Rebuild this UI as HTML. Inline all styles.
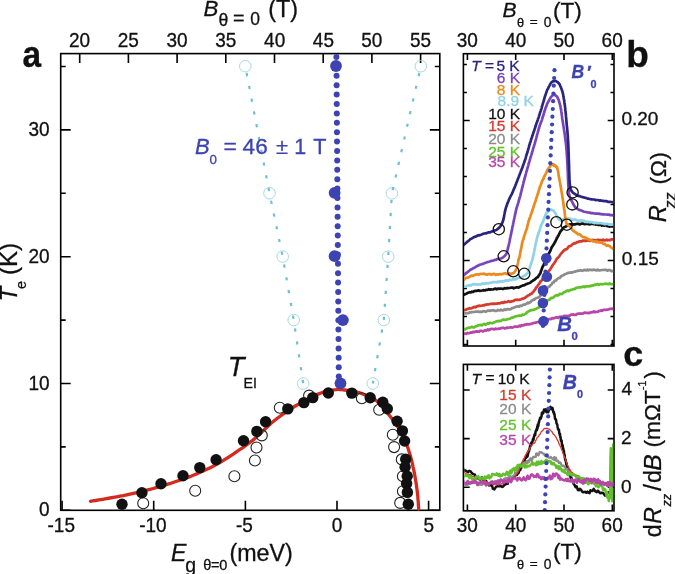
<!DOCTYPE html><html><head><meta charset="utf-8"><style>html,body{margin:0;padding:0;background:#fff;}svg{display:block;will-change:transform;}</style></head><body><svg width="675" height="574" viewBox="0 0 675 574" font-family="Liberation Sans, sans-serif">
<rect width="675" height="574" fill="#fff"/>
<path d="M60.7,510.3h10M439.8,510.3h-10M60.7,383.5h10M439.8,383.5h-10M60.7,256.7h10M439.8,256.7h-10M60.7,129.9h10M439.8,129.9h-10M60.7,446.9h5M439.8,446.9h-5M60.7,320.1h5M439.8,320.1h-5M60.7,193.3h5M439.8,193.3h-5M60.7,66.5h5M439.8,66.5h-5M62.1,510.3v-9.5M153.7,510.3v-9.5M245.4,510.3v-9.5M337.0,510.3v-9.5M428.6,510.3v-9.5M79.7,53.6v9.5M128.4,53.6v9.5M177.1,53.6v9.5M225.8,53.6v9.5M274.5,53.6v9.5M323.2,53.6v9.5M371.9,53.6v9.5M420.6,53.6v9.5" stroke="#000" stroke-width="1.6" fill="none"/>
<rect x="60.7" y="53.6" width="379.1" height="456.7" fill="none" stroke="#000" stroke-width="1.6"/>
<circle cx="245.3" cy="66.2" r="5.8" fill="none" stroke="#9fd3de" stroke-width="0.9"/>
<circle cx="269.5" cy="193.2" r="5.8" fill="none" stroke="#9fd3de" stroke-width="0.9"/>
<circle cx="282.7" cy="256.6" r="5.8" fill="none" stroke="#9fd3de" stroke-width="0.9"/>
<circle cx="293.7" cy="320" r="5.8" fill="none" stroke="#9fd3de" stroke-width="0.9"/>
<circle cx="303.2" cy="383.5" r="5.8" fill="none" stroke="#9fd3de" stroke-width="0.9"/>
<circle cx="420.8" cy="66.2" r="5.8" fill="none" stroke="#9fd3de" stroke-width="0.9"/>
<circle cx="391.9" cy="193.4" r="5.8" fill="none" stroke="#9fd3de" stroke-width="0.9"/>
<circle cx="388.2" cy="256.6" r="5.8" fill="none" stroke="#9fd3de" stroke-width="0.9"/>
<circle cx="383.8" cy="320" r="5.8" fill="none" stroke="#9fd3de" stroke-width="0.9"/>
<circle cx="372.8" cy="383.5" r="5.8" fill="none" stroke="#9fd3de" stroke-width="0.9"/>
<path d="M245.3,66.2 L269.5,193.2 L282.7,256.6 L293.7,320.0 L303.2,383.5" fill="none" stroke="#6cc0cf" stroke-width="2.2" stroke-dasharray="3.2 9.8" stroke-dashoffset="-7"/>
<path d="M420.8,66.2 L391.9,193.4 L388.2,256.6 L383.8,320.0 L372.8,383.5" fill="none" stroke="#6cc0cf" stroke-width="2.2" stroke-dasharray="3.2 9.8" stroke-dashoffset="-7"/>
<polyline points="90.5,501.3 92.6,500.9 95.5,500.5 99.0,499.9 102.7,499.3 106.5,498.6 110.0,498.0 113.3,497.4 116.6,496.8 120.0,496.2 123.3,495.6 126.7,494.9 130.0,494.2 133.4,493.4 136.7,492.7 140.1,491.8 143.5,491.0 146.8,490.1 150.0,489.3 153.1,488.5 156.1,487.6 159.0,486.8 161.9,486.0 164.9,485.1 167.8,484.2 170.8,483.3 173.7,482.3 176.7,481.3 179.7,480.3 182.6,479.3 185.6,478.2 188.6,477.1 191.5,476.0 194.4,474.8 197.4,473.6 200.3,472.3 203.3,471.0 206.3,469.6 209.2,468.2 212.2,466.7 215.2,465.1 218.1,463.5 221.1,461.8 224.2,459.9 227.4,457.9 230.6,455.8 233.6,453.8 236.4,451.8 238.9,450.2 240.9,448.9 242.5,447.8 243.9,446.8 245.2,445.9 246.4,445.0 247.8,444.0 249.3,442.9 250.8,441.7 252.3,440.6 253.8,439.4 255.3,438.1 256.7,436.9 258.1,435.6 259.5,434.4 260.8,433.1 262.1,431.7 263.5,430.4 265.0,429.0 266.5,427.6 268.0,426.2 269.5,424.8 271.1,423.3 272.9,421.8 274.8,420.2 277.0,418.5 279.4,416.7 281.9,414.9 284.5,413.1 287.1,411.3 289.6,409.6 292.1,408.0 294.5,406.5 297.0,405.0 299.5,403.6 301.9,402.2 304.4,400.9 306.9,399.6 309.4,398.2 311.9,396.9 314.3,395.7 316.8,394.6 319.3,393.6 321.8,392.7 324.5,391.9 327.1,391.2 329.6,390.7 332.0,390.2 334.1,389.8 335.9,389.6 337.3,389.4 338.6,389.4 339.9,389.5 341.3,389.6 343.0,389.8 345.0,390.0 347.3,390.3 349.7,390.7 352.1,391.1 354.4,391.5 356.3,391.9 357.9,392.3 359.1,392.6 360.2,393.0 361.3,393.4 362.5,393.9 364.0,394.5 365.7,395.2 367.6,395.9 369.6,396.7 371.7,397.6 373.7,398.8 375.8,400.3 377.9,402.1 380.0,404.3 382.2,406.7 384.4,409.3 386.4,411.8 388.4,414.2 390.3,416.5 392.0,418.8 393.8,421.1 395.4,423.4 397.0,425.7 398.5,428.1 399.9,430.6 401.3,433.1 402.6,435.6 403.9,438.2 405.0,440.8 406.1,443.3 407.1,445.8 408.0,448.2 408.8,450.7 409.6,453.2 410.4,455.7 411.1,458.4 411.8,461.2 412.5,464.1 413.1,467.1 413.8,470.1 414.4,473.1 414.9,476.1 415.4,479.1 415.9,482.1 416.4,485.1 416.8,488.1 417.2,491.0 417.5,493.8 417.8,496.7 418.0,499.6 418.3,502.5 418.4,505.2 418.6,507.4 418.7,509.0" fill="none" stroke="#d52b1e" stroke-width="3.3" stroke-linejoin="round" stroke-linecap="round" />
<circle cx="143.2" cy="503.3" r="5.5" fill="none" stroke="#222" stroke-width="1.1"/>
<circle cx="195.2" cy="490.8" r="5.5" fill="none" stroke="#222" stroke-width="1.1"/>
<circle cx="234.4" cy="476.2" r="5.5" fill="none" stroke="#222" stroke-width="1.1"/>
<circle cx="254.9" cy="460.5" r="5.5" fill="none" stroke="#222" stroke-width="1.1"/>
<circle cx="256.5" cy="447.5" r="5.5" fill="none" stroke="#222" stroke-width="1.1"/>
<circle cx="261.8" cy="435.4" r="5.5" fill="none" stroke="#222" stroke-width="1.1"/>
<circle cx="279.8" cy="407.8" r="5.5" fill="none" stroke="#222" stroke-width="1.1"/>
<circle cx="309.1" cy="395.6" r="5.5" fill="none" stroke="#222" stroke-width="1.1"/>
<circle cx="361.9" cy="398.3" r="5.5" fill="none" stroke="#222" stroke-width="1.1"/>
<circle cx="379.2" cy="409.8" r="5.5" fill="none" stroke="#222" stroke-width="1.1"/>
<circle cx="392.8" cy="434.7" r="5.5" fill="none" stroke="#222" stroke-width="1.1"/>
<circle cx="394.1" cy="447.1" r="5.5" fill="none" stroke="#222" stroke-width="1.1"/>
<circle cx="401.8" cy="459.4" r="5.5" fill="none" stroke="#222" stroke-width="1.1"/>
<circle cx="402.9" cy="476.2" r="5.5" fill="none" stroke="#222" stroke-width="1.1"/>
<circle cx="402.9" cy="491.2" r="5.5" fill="none" stroke="#222" stroke-width="1.1"/>
<circle cx="400.2" cy="502.9" r="5.5" fill="none" stroke="#222" stroke-width="1.1"/>
<circle cx="122" cy="504.3" r="5.7" fill="#111"/>
<circle cx="141.9" cy="492.8" r="5.7" fill="#111"/>
<circle cx="161" cy="483.8" r="5.7" fill="#111"/>
<circle cx="183" cy="475.7" r="5.7" fill="#111"/>
<circle cx="199.8" cy="467.6" r="5.7" fill="#111"/>
<circle cx="216.1" cy="459.7" r="5.7" fill="#111"/>
<circle cx="243.5" cy="440.7" r="5.7" fill="#111"/>
<circle cx="256.9" cy="431.4" r="5.7" fill="#111"/>
<circle cx="265.6" cy="421.8" r="5.7" fill="#111"/>
<circle cx="287.8" cy="408.9" r="5.7" fill="#111"/>
<circle cx="303.9" cy="402.6" r="5.7" fill="#111"/>
<circle cx="312.8" cy="397.6" r="5.7" fill="#111"/>
<circle cx="328.3" cy="393" r="5.7" fill="#111"/>
<circle cx="351.8" cy="393.1" r="5.7" fill="#111"/>
<circle cx="370.2" cy="397.8" r="5.7" fill="#111"/>
<circle cx="382.8" cy="402.3" r="5.7" fill="#111"/>
<circle cx="387.3" cy="408.8" r="5.7" fill="#111"/>
<circle cx="397.1" cy="421.3" r="5.7" fill="#111"/>
<circle cx="402.4" cy="430.9" r="5.7" fill="#111"/>
<circle cx="404.6" cy="441" r="5.7" fill="#111"/>
<circle cx="405.7" cy="459.3" r="5.7" fill="#111"/>
<circle cx="405.1" cy="467.2" r="5.7" fill="#111"/>
<circle cx="407.2" cy="476.2" r="5.7" fill="#111"/>
<circle cx="406.6" cy="483.6" r="5.7" fill="#111"/>
<circle cx="407.4" cy="492.4" r="5.7" fill="#111"/>
<circle cx="408.3" cy="504.2" r="5.7" fill="#111"/>
<g fill="#3d43b3"><circle cx="336.40" cy="57.0" r="3"/><circle cx="336.47" cy="66.4" r="3"/><circle cx="336.54" cy="75.8" r="3"/><circle cx="336.61" cy="85.2" r="3"/><circle cx="336.68" cy="94.6" r="3"/><circle cx="336.75" cy="104.0" r="3"/><circle cx="336.82" cy="113.4" r="3"/><circle cx="336.89" cy="122.8" r="3"/><circle cx="336.96" cy="132.2" r="3"/><circle cx="337.03" cy="141.6" r="3"/><circle cx="337.10" cy="151.0" r="3"/><circle cx="337.18" cy="160.4" r="3"/><circle cx="337.25" cy="169.8" r="3"/><circle cx="337.32" cy="179.2" r="3"/><circle cx="337.39" cy="188.6" r="3"/><circle cx="337.46" cy="198.0" r="3"/><circle cx="337.53" cy="207.4" r="3"/><circle cx="337.60" cy="216.8" r="3"/><circle cx="337.67" cy="226.2" r="3"/><circle cx="337.74" cy="235.6" r="3"/><circle cx="337.81" cy="245.0" r="3"/><circle cx="337.88" cy="254.4" r="3"/><circle cx="337.95" cy="263.8" r="3"/><circle cx="338.02" cy="273.2" r="3"/><circle cx="338.09" cy="282.6" r="3"/><circle cx="338.16" cy="292.0" r="3"/><circle cx="338.23" cy="301.4" r="3"/><circle cx="338.30" cy="310.8" r="3"/><circle cx="338.37" cy="320.2" r="3"/><circle cx="338.44" cy="329.6" r="3"/><circle cx="338.51" cy="339.0" r="3"/><circle cx="338.59" cy="348.4" r="3"/><circle cx="338.66" cy="357.8" r="3"/><circle cx="338.73" cy="367.2" r="3"/><circle cx="338.80" cy="376.6" r="3"/></g>
<circle cx="336" cy="66" r="5.9" fill="#3d43b3"/>
<circle cx="334.6" cy="192.8" r="5.9" fill="#3d43b3"/>
<circle cx="334.6" cy="256.2" r="5.9" fill="#3d43b3"/>
<circle cx="342.9" cy="320.1" r="5.9" fill="#3d43b3"/>
<circle cx="340.5" cy="383.3" r="5.9" fill="#3d43b3"/>
<path d="M463.4,64.5h3.5M614.0,64.5h-3.5M463.4,92.5h3.5M614.0,92.5h-3.5M463.4,120.5h6.3M614.0,120.5h-6.3M463.4,148.5h3.5M614.0,148.5h-3.5M463.4,176.5h3.5M614.0,176.5h-3.5M463.4,204.5h3.5M614.0,204.5h-3.5M463.4,232.5h3.5M614.0,232.5h-3.5M463.4,260.5h6.3M614.0,260.5h-6.3M463.4,288.5h3.5M614.0,288.5h-3.5M463.4,316.5h3.5M614.0,316.5h-3.5M463.4,344.5h3.5M614.0,344.5h-3.5M467.4,53.7v6.3M467.4,346.0v-6.3M515.7,53.7v6.3M515.7,346.0v-6.3M564.0,53.7v6.3M564.0,346.0v-6.3M612.3,53.7v6.3M612.3,346.0v-6.3" stroke="#000" stroke-width="1.6" fill="none"/>
<rect x="463.4" y="53.7" width="150.6" height="292.3" fill="none" stroke="#000" stroke-width="1.6"/>
<clipPath id="cb"><rect x="464" y="54.5" width="149.2" height="290.7"/></clipPath><g clip-path="url(#cb)">
<polyline points="463.0,334.0 464.9,333.5 466.2,333.8 467.5,332.9 468.6,333.3 469.7,332.9 470.7,332.4 471.9,332.7 473.0,331.9 474.2,332.2 475.5,331.6 476.7,331.4 478.0,331.6 479.0,331.8 480.1,330.8 481.1,330.8 482.1,331.1 483.2,331.3 484.3,330.6 485.4,330.2 486.5,330.7 487.7,329.4 488.8,330.3 489.9,329.4 491.0,329.1 492.1,328.9 493.3,329.0 494.4,329.5 495.5,328.6 496.7,329.0 497.8,329.0 499.0,328.5 500.1,328.7 501.3,328.0 502.5,327.9 503.7,327.9 504.9,328.4 506.0,327.9 507.2,327.7 508.4,327.8 509.6,327.5 510.8,327.2 512.1,327.6 513.3,327.3 514.5,326.5 515.5,326.7 516.6,326.5 517.6,326.8 518.6,326.4 519.6,325.7 520.6,326.3 521.6,325.1 522.5,325.3 523.5,325.5 524.5,324.6 525.6,324.8 526.8,324.0 527.9,324.5 529.0,324.4 530.3,323.9 531.6,324.0 532.9,323.0 534.0,323.1 535.1,322.7 536.3,322.4 537.4,322.0 538.5,322.1 539.5,322.0 540.7,321.1 541.8,321.1 542.9,320.1 544.1,320.6 545.2,320.3 546.4,320.4 547.6,320.0 548.7,319.1 549.9,319.0 551.1,319.1 552.2,318.1 553.4,318.4 554.6,317.9 555.7,317.6 556.9,317.3 558.1,317.9 559.3,316.9 560.5,316.8 561.7,316.7 562.9,317.0 564.0,315.8 565.2,316.0 566.4,315.9 567.5,316.1 568.6,315.8 569.7,315.6 570.8,314.7 572.2,314.7 573.5,314.4 574.7,314.9 575.9,314.9 577.2,313.8 578.4,313.7 579.5,313.6 580.5,313.5 581.6,313.7 582.7,313.7 583.7,313.1 584.8,312.6 585.8,313.0 586.8,312.8 587.8,312.9 588.8,313.2 589.8,312.7 590.8,312.4 591.8,312.3 592.8,312.2 593.8,311.3 594.8,312.2 595.8,311.9 596.9,311.9 598.1,311.6 599.2,310.9 600.3,310.8 601.3,310.3 602.3,310.8 603.3,309.9 604.3,309.8 605.6,309.8 606.8,309.6 608.1,309.6 609.1,309.1 610.2,308.9 611.3,308.9 612.4,308.7 613.5,308.8" fill="none" stroke="#b845a8" stroke-width="2.7" stroke-linejoin="round" stroke-linecap="round" />
<polyline points="463.0,328.9 464.9,329.5 466.2,328.8 467.5,327.9 468.6,327.8 469.7,327.6 470.7,327.4 471.9,326.8 473.0,327.4 474.2,327.3 475.5,326.4 476.7,326.1 478.0,325.4 479.0,325.2 480.1,325.2 481.1,324.9 482.1,325.4 483.2,324.3 484.3,323.9 485.4,324.8 486.5,324.1 487.7,323.3 488.8,323.6 489.9,322.7 491.0,323.0 492.2,323.3 493.4,322.8 494.6,322.3 495.8,321.5 496.9,321.4 497.9,320.9 498.9,321.3 500.0,320.8 501.0,320.8 502.2,320.0 503.4,319.5 504.6,319.9 505.8,319.8 507.1,319.4 508.3,319.0 509.6,318.7 510.7,318.3 511.8,317.5 512.9,317.6 513.7,317.3 515.0,316.5 516.9,316.0 518.0,316.0 519.0,315.6 520.1,315.7 521.2,315.7 522.3,314.7 523.4,314.8 524.5,314.4 525.5,313.9 526.6,312.6 527.6,311.9 528.7,311.3 529.7,310.7 530.7,310.2 531.7,310.2 533.5,309.9 535.1,309.3 536.8,308.3 537.7,308.0 538.7,307.7 539.8,306.0 541.0,305.9 541.8,305.5 542.7,304.6 543.5,303.9 544.4,302.9 545.2,301.8 546.1,301.8 547.3,300.4 548.5,300.1 549.6,299.6 550.7,298.3 551.7,297.8 552.8,297.9 553.8,297.2 554.8,296.0 555.9,295.5 556.9,295.1 557.9,295.5 558.9,294.9 560.0,293.7 561.0,294.1 562.0,293.9 563.0,293.0 564.1,292.2 565.2,292.1 566.3,291.1 567.4,290.5 568.5,291.2 569.6,290.4 570.9,289.8 572.1,289.8 573.1,289.0 574.0,289.2 575.0,288.9 576.2,287.9 577.4,287.7 578.6,287.5 579.6,287.2 580.6,287.5 581.6,286.9 582.6,286.9 583.7,286.4 584.7,287.2 585.8,286.3 586.8,286.3 587.9,286.3 588.9,286.5 589.9,285.8 590.9,286.2 591.9,285.6 592.9,285.4 593.9,285.3 594.9,284.5 595.9,284.9 596.9,284.4 597.9,284.1 598.9,284.9 600.2,284.0 601.4,284.2 602.7,284.3 603.8,284.0 604.8,283.7 605.9,283.8 607.2,283.9 608.5,284.1 609.6,283.4 610.6,284.1 612.3,284.0 613.5,284.2" fill="none" stroke="#62c12a" stroke-width="2.7" stroke-linejoin="round" stroke-linecap="round" />
<polyline points="463.0,314.0 464.9,313.3 466.2,313.1 467.5,313.1 468.6,313.1 469.7,312.4 470.7,312.4 471.9,312.1 473.0,312.0 474.2,312.0 475.5,311.7 476.7,311.7 478.0,311.5 479.0,312.0 480.1,311.7 481.1,311.8 482.1,311.8 483.2,311.0 484.3,311.3 485.4,311.7 486.5,311.5 487.7,310.7 488.8,310.6 489.9,310.9 491.0,310.4 492.2,310.5 493.4,310.2 494.6,310.8 495.8,310.8 496.9,310.8 497.9,309.9 498.9,310.4 500.0,310.3 501.0,309.6 502.2,310.3 503.4,310.3 504.6,309.3 505.8,310.0 507.1,309.2 508.3,309.1 509.6,309.5 510.7,309.2 511.8,308.2 512.9,308.1 513.7,307.8 515.0,307.1 516.9,306.5 518.0,306.4 519.0,306.7 520.1,305.6 521.2,305.9 522.3,305.5 523.4,304.7 524.5,304.6 525.5,304.4 526.6,303.8 527.6,302.7 528.7,303.2 529.7,302.4 530.7,302.1 531.7,300.6 532.7,300.2 533.6,299.4 534.5,299.7 535.5,298.6 536.3,298.0 537.2,297.8 538.7,297.4 539.9,296.4 540.9,295.1 541.9,294.2 543.0,294.0 544.2,292.2 544.9,291.6 545.5,290.1 546.2,289.2 546.9,289.1 547.7,287.9 548.5,286.6 549.4,286.6 550.4,285.3 551.5,284.5 552.5,282.7 553.6,282.5 554.7,280.7 555.8,280.7 556.9,279.3 557.9,278.5 558.9,278.0 560.0,277.8 561.0,276.4 562.0,275.7 563.0,275.5 564.1,274.7 565.2,274.1 566.3,273.7 567.4,273.1 568.5,272.9 569.6,272.7 570.9,272.4 572.1,272.6 573.5,271.8 575.0,271.7 576.1,271.1 577.3,271.1 578.4,270.6 579.6,270.6 580.9,270.2 582.1,270.8 583.2,270.5 584.2,269.9 585.3,270.1 586.3,270.5 587.5,269.6 588.6,270.3 589.8,269.8 590.9,269.8 592.0,270.2 593.2,269.7 594.3,269.8 595.5,270.1 596.6,270.4 597.7,269.7 598.8,270.3 599.9,270.3 601.0,270.2 602.1,270.0 603.2,270.0 604.2,269.8 605.2,269.9 606.2,269.9 607.3,270.7 608.3,270.2 609.3,270.2 610.3,270.2 611.4,271.1 612.4,271.1 613.5,271.0" fill="none" stroke="#8c8c8c" stroke-width="2.7" stroke-linejoin="round" stroke-linecap="round" />
<polyline points="463.0,310.7 463.9,310.3 464.9,310.0 466.2,309.6 467.5,308.8 468.6,308.8 469.7,308.2 470.7,308.5 471.9,308.2 473.0,307.5 474.2,306.8 475.5,307.3 476.7,306.4 478.0,306.2 479.0,305.7 480.1,305.9 481.1,305.8 482.1,305.6 483.2,305.2 484.3,305.3 485.4,304.6 486.5,304.7 487.7,304.4 488.8,304.5 489.9,304.0 491.0,303.8 492.2,303.9 493.4,303.7 494.6,303.8 495.8,303.6 496.9,303.7 497.9,303.4 498.9,303.3 500.0,303.3 501.0,302.7 502.2,302.4 503.4,302.9 504.6,301.9 505.8,302.3 507.1,302.0 508.3,301.2 509.6,301.8 510.7,301.7 511.8,301.2 512.9,301.1 513.7,300.9 515.0,299.9 516.9,299.9 518.0,299.7 519.0,299.9 520.1,299.6 521.2,299.3 522.3,298.7 523.4,298.7 524.5,298.0 525.5,297.6 526.6,296.6 527.6,295.8 528.7,295.3 529.7,294.8 530.7,293.8 531.7,293.7 532.7,292.4 533.6,291.5 534.2,290.6 534.8,289.9 535.5,288.9 536.0,287.6 536.6,287.5 537.2,286.7 537.9,285.4 538.7,284.3 539.8,282.9 540.7,281.2 541.6,280.6 542.3,279.3 542.9,278.3 543.5,277.6 544.1,277.3 544.8,276.0 545.5,275.5 546.3,274.8 547.0,273.3 547.8,272.2 548.5,271.3 549.3,270.5 550.0,269.7 550.6,268.6 551.3,267.7 552.1,266.0 552.9,264.9 553.6,264.0 554.2,263.4 554.9,262.0 555.5,261.3 556.2,259.7 556.9,258.8 557.7,257.9 558.5,257.3 559.3,256.2 560.1,255.2 560.9,253.8 561.7,253.1 562.3,252.2 563.0,251.5 563.9,250.2 564.6,250.4 565.3,249.3 566.2,249.5 567.4,248.4 568.9,246.3 569.7,246.2 570.5,245.9 571.4,245.5 572.3,244.4 573.3,243.8 574.4,243.2 575.6,243.4 576.8,242.2 578.0,242.2 579.2,241.3 580.4,241.3 581.6,241.5 582.8,240.5 583.9,241.0 585.1,240.6 586.2,240.9 587.4,240.7 588.5,240.3 589.7,240.9 590.9,240.5 592.1,240.0 593.3,239.9 594.5,240.4 595.8,240.3 597.0,240.1 598.3,239.9 599.6,240.1 601.0,240.0 602.1,240.5 603.2,239.6 604.2,240.3 605.5,240.3 606.7,239.5 607.9,240.3 609.0,240.0 610.1,240.1 611.2,239.4 612.3,239.4 613.5,239.4" fill="none" stroke="#d63a2c" stroke-width="2.7" stroke-linejoin="round" stroke-linecap="round" />
<polyline points="463.0,295.4 463.9,294.7 464.9,294.2 466.2,293.7 467.5,293.1 468.6,292.5 469.7,292.2 470.7,292.5 471.9,291.7 473.0,292.0 474.2,291.1 475.5,290.9 476.7,290.9 478.0,290.4 479.0,290.4 480.1,290.9 481.1,290.7 482.1,290.5 483.2,290.2 484.3,290.4 485.4,290.3 486.5,289.8 487.7,289.9 488.8,289.2 489.9,289.7 491.0,289.4 492.2,289.5 493.4,289.3 494.6,288.9 495.8,288.6 496.9,289.3 497.9,288.5 498.9,288.8 500.0,288.6 501.0,288.5 502.2,288.8 503.4,288.9 504.6,288.2 505.8,288.5 507.1,288.1 508.3,288.2 509.6,288.0 510.7,287.7 511.8,287.7 512.9,287.7 513.7,288.3 515.0,287.8 516.9,287.2 518.0,287.6 519.0,287.4 520.1,286.7 521.2,286.1 522.3,285.8 523.4,285.3 524.5,285.1 525.5,284.5 526.6,284.1 527.6,283.6 528.7,283.3 529.7,283.0 530.7,282.3 531.7,281.4 532.7,280.8 533.6,280.3 534.5,279.6 535.5,278.9 536.3,277.9 537.2,277.4 537.9,277.2 538.7,275.6 539.3,274.8 540.0,273.8 540.5,272.8 541.0,270.9 541.5,269.7 542.0,268.4 542.4,267.3 542.9,266.2 543.4,265.6 543.8,264.4 544.3,263.5 544.7,261.8 545.2,260.9 545.6,260.6 546.1,259.8 546.5,258.5 547.3,256.8 548.1,254.5 548.5,253.9 549.0,253.5 549.5,252.4 550.0,251.3 550.7,250.2 551.3,248.2 551.8,247.2 552.4,246.3 552.9,245.7 553.4,244.8 553.9,244.1 554.5,242.9 555.0,242.0 555.5,241.2 556.0,240.0 556.5,239.2 556.9,237.8 557.4,237.6 557.9,236.2 558.3,235.9 558.8,234.8 559.5,233.3 560.2,231.9 560.8,231.0 561.5,230.3 562.2,229.6 562.8,228.3 564.1,227.2 565.4,226.7 566.5,226.1 567.4,225.4 568.3,224.9 569.1,225.0 570.0,224.3 570.8,224.3 571.6,224.3 572.8,224.6 573.8,224.3 574.9,224.4 576.0,224.0 577.2,223.8 578.3,223.8 579.4,224.4 580.4,224.1 581.5,223.8 582.6,223.5 583.8,223.9 585.0,224.1 586.2,223.8 587.4,223.7 588.6,224.1 589.9,224.4 591.1,223.8 592.3,223.7 593.4,224.1 594.5,224.2 595.6,224.6 596.7,224.3 597.8,224.9 598.8,225.0 599.8,224.9 600.8,224.7 601.9,225.6 602.9,225.1 603.9,225.7 605.0,225.3 606.1,225.5 607.2,226.1 608.3,225.8 609.4,226.6 610.7,226.3 612.0,226.2 613.3,226.5" fill="none" stroke="#111" stroke-width="2.7" stroke-linejoin="round" stroke-linecap="round" />
<polyline points="463.0,286.7 464.9,286.5 466.2,286.5 467.5,285.5 468.6,285.5 469.7,285.1 470.7,285.6 471.9,284.7 473.0,284.4 474.2,284.2 475.5,284.4 476.7,284.7 478.0,284.5 479.0,284.3 480.1,284.4 481.1,284.3 482.1,283.6 483.2,283.4 484.3,284.0 485.4,283.7 486.5,283.0 487.7,283.4 488.8,283.0 489.9,282.9 491.0,282.7 492.2,282.4 493.4,282.1 494.6,282.2 495.7,282.1 496.7,282.5 497.8,281.6 498.8,282.2 499.8,281.4 500.8,281.4 502.0,281.6 503.2,281.4 504.4,280.9 505.6,280.4 506.6,280.6 507.6,280.3 508.6,280.6 509.6,279.8 510.6,279.8 511.6,280.1 512.7,279.2 513.9,279.3 515.1,279.4 516.1,279.2 517.1,278.3 518.9,277.8 520.6,277.2 522.0,277.3 523.2,276.0 524.3,275.7 525.3,275.3 526.1,274.3 526.8,273.7 527.5,273.4 528.2,271.8 528.9,269.8 529.5,268.5 530.1,266.3 530.7,264.5 531.3,262.5 531.9,261.2 532.2,260.4 532.5,259.1 532.8,258.3 533.0,256.5 533.3,255.5 533.5,254.6 533.8,253.9 534.0,252.8 534.3,251.1 534.5,249.8 534.7,248.7 535.0,247.5 535.2,246.6 535.5,244.7 535.7,243.9 536.0,242.6 536.2,241.5 536.5,240.2 536.8,239.0 537.1,237.7 537.4,236.7 537.7,235.7 538.0,235.1 538.4,233.5 539.0,231.7 539.6,230.4 540.3,228.1 540.9,226.2 541.5,224.6 542.0,223.7 542.5,222.3 543.0,221.7 543.5,220.3 544.1,218.8 544.9,216.4 545.6,214.5 546.3,213.1 547.0,212.5 547.7,211.8 548.4,211.0 549.0,210.3 549.6,210.0 550.0,209.8 550.6,209.6 551.2,209.7 552.0,210.1 552.9,210.5 553.8,210.8 554.7,212.4 555.6,213.4 556.0,214.5 556.4,215.2 557.3,217.3 558.1,218.2 558.8,219.2 559.4,219.8 560.1,220.1 561.0,220.8 562.1,220.3 563.2,219.4 564.6,218.8 566.2,218.9 567.9,218.6 569.8,218.6 570.9,219.4 572.0,219.4 573.5,220.0 574.9,219.4 576.1,220.0 577.3,220.5 578.6,220.7 579.6,220.9 580.7,220.3 581.8,220.7 582.8,220.7 584.0,220.9 585.2,221.8 586.3,221.6 587.5,222.1 588.7,221.8 589.9,222.4 591.1,222.2 592.3,222.2 593.4,222.8 594.5,223.1 595.6,222.5 596.7,223.1 597.8,223.2 598.8,223.0 599.8,223.2 600.8,223.2 601.9,223.3 602.9,223.5 603.9,224.0 605.0,224.1 606.1,223.9 607.2,223.8 608.3,224.2 609.4,224.7 610.7,224.4 612.0,224.7 613.3,224.7" fill="none" stroke="#8fd3e6" stroke-width="2.7" stroke-linejoin="round" stroke-linecap="round" />
<polyline points="463.0,280.5 464.3,279.5 465.2,278.4 466.1,277.9 467.1,277.7 468.2,277.4 469.3,277.0 470.5,275.9 471.8,275.6 473.0,275.9 474.4,275.1 475.8,274.6 477.3,274.3 478.7,274.8 480.2,273.9 481.6,274.0 483.0,273.7 484.4,273.8 485.8,274.4 487.2,274.7 488.6,274.1 490.0,274.0 491.4,274.7 492.8,274.1 494.2,273.9 495.7,274.9 497.1,274.3 498.6,274.6 500.0,274.0 501.4,274.5 502.7,273.9 504.0,273.5 505.2,273.3 506.4,273.9 507.5,274.1 508.7,274.4 509.7,273.4 510.7,274.1 512.4,273.4 513.7,273.0 514.7,271.7 515.4,270.8 516.1,269.8 516.7,268.7 517.2,265.8 517.4,265.3 517.6,264.6 518.0,263.0 518.4,260.4 518.8,258.7 519.2,258.2 519.6,256.6 520.0,254.3 520.3,252.1 520.6,251.3 521.0,248.9 521.4,247.7 521.7,245.5 521.9,244.7 522.1,242.9 522.4,242.5 522.7,240.7 523.0,239.9 523.3,239.5 523.6,238.5 524.0,236.6 524.3,235.6 524.7,234.7 525.1,233.8 525.4,232.5 525.8,231.1 526.3,229.9 526.7,229.1 527.0,228.3 527.3,226.2 527.6,225.3 528.0,224.0 528.5,221.2 528.9,220.9 529.3,218.8 529.7,218.4 530.0,217.4 530.3,216.6 530.7,215.2 531.0,214.4 531.3,213.6 531.8,212.0 532.3,210.9 532.7,209.3 533.2,208.0 533.6,206.2 534.0,205.7 534.4,204.3 534.8,202.8 535.1,202.3 535.5,201.2 535.8,199.9 536.2,198.6 536.7,197.3 537.3,195.3 537.9,193.6 538.2,192.9 538.5,191.4 538.8,190.7 539.1,189.7 539.5,188.0 539.8,187.6 540.1,186.0 540.4,185.8 541.0,184.2 541.6,182.5 542.2,180.7 542.8,180.0 543.3,178.7 543.7,178.4 544.1,176.4 544.6,176.1 545.2,175.0 546.0,173.2 546.7,171.9 547.4,169.8 548.1,169.6 548.8,167.8 549.4,167.4 550.0,166.5 550.5,165.0 551.0,165.3 551.5,165.2 552.0,164.0 552.5,164.3 553.0,164.9 553.5,164.3 554.0,165.5 554.5,165.0 555.0,166.0 555.5,165.6 556.0,166.5 556.4,167.3 556.7,166.7 557.1,167.4 557.5,169.0 557.7,169.9 558.0,170.8 558.2,171.9 558.4,172.9 558.5,174.9 558.7,175.7 558.9,177.1 559.1,177.3 559.3,179.1 559.5,179.4 559.7,181.0 559.9,182.2 560.1,182.9 560.3,184.6 560.5,185.3 560.7,186.4 560.9,187.9 561.1,188.0 561.2,190.2 561.4,190.8 561.6,191.7 561.8,193.2 562.0,193.7 562.2,195.7 562.4,196.4 562.5,197.3 562.7,198.9 562.9,199.7 563.0,200.5 563.2,202.4 563.4,202.7 563.5,204.8 563.7,205.2 563.8,206.8 564.0,208.3 564.1,208.9 564.3,210.1 564.4,210.7 564.6,211.4 564.7,212.5 564.8,213.7 565.0,215.7 565.2,217.0 565.4,218.3 565.6,220.0 565.9,220.8 566.2,222.3 566.5,223.8 567.0,223.9 567.6,224.6 568.3,225.6 569.1,225.8 570.0,226.8 570.9,227.7 571.8,229.3 573.0,230.6 573.9,230.9 574.9,232.1 575.9,232.6 576.8,232.8 577.8,234.3 578.7,234.0 579.6,234.4 580.5,234.8 581.4,236.0 582.4,236.8 583.3,237.2 584.3,237.2 585.2,237.6 586.4,237.8 587.6,239.1 588.8,239.6 589.9,239.7 591.0,240.4 592.1,240.6 593.1,241.5 594.2,241.5 595.2,241.2 596.2,242.2 597.2,241.4 598.2,242.3 599.6,242.5 601.0,242.7 602.3,242.9 603.5,244.2 604.7,243.8 605.8,244.9 606.8,245.8 607.9,245.3 609.6,246.1 611.0,247.4 612.1,248.0 612.9,248.7 613.5,249.4" fill="none" stroke="#ea8a1f" stroke-width="2.7" stroke-linejoin="round" stroke-linecap="round" />
<polyline points="463.0,275.8 464.3,274.8 465.2,274.0 466.1,273.0 467.1,272.5 468.2,271.6 469.3,270.7 470.5,269.6 471.8,269.2 473.0,268.4 474.0,267.8 474.9,267.5 475.8,266.8 476.8,266.2 477.8,265.7 478.7,265.3 479.7,264.8 480.6,264.5 481.6,264.3 482.6,263.9 483.5,263.6 484.5,263.2 485.5,262.7 486.4,262.5 487.4,262.1 488.8,261.8 490.3,261.3 491.5,260.8 492.8,260.6 493.9,260.4 495.0,259.8 496.0,259.9 497.0,259.2 498.8,258.9 500.3,258.5 501.5,258.2 502.5,257.8 503.2,257.2 504.0,256.4 504.7,256.1 505.4,255.1 506.0,254.3 506.5,253.7 506.9,252.4 507.3,251.1 507.6,249.6 508.0,248.2 508.3,246.6 508.7,245.5 509.0,243.8 509.3,242.8 509.5,241.5 509.7,240.6 509.9,239.5 510.1,238.4 510.4,237.1 510.6,236.1 510.9,234.7 511.1,234.1 511.3,232.7 511.5,231.7 511.7,230.8 511.9,230.2 512.1,228.9 512.3,227.8 512.5,226.8 512.7,225.8 512.9,225.1 513.1,224.0 513.3,223.1 513.5,222.0 513.8,220.6 514.0,219.8 514.2,218.6 514.4,217.8 514.6,216.8 514.9,215.7 515.1,214.3 515.3,213.7 515.5,212.7 515.8,211.7 516.0,210.3 516.3,209.2 516.6,207.9 517.0,206.7 517.3,206.0 517.6,204.9 518.0,203.7 518.3,202.7 518.6,201.5 519.0,200.2 519.3,198.9 519.7,197.7 520.0,196.8 520.3,195.6 520.5,194.6 520.8,193.7 521.0,192.5 521.3,191.6 521.5,190.6 521.8,189.8 522.0,188.6 522.3,187.5 522.6,186.7 522.8,185.4 523.1,184.5 523.4,183.3 523.6,181.9 523.9,181.0 524.2,180.0 524.5,179.0 524.8,177.7 525.1,176.8 525.4,175.6 525.7,174.4 526.0,173.6 526.3,172.1 526.6,171.3 527.0,169.9 527.3,168.6 527.6,167.6 527.9,166.7 528.3,165.6 528.6,163.9 529.0,163.0 529.3,161.8 529.6,160.9 529.9,159.6 530.2,158.7 530.5,157.6 530.8,156.8 531.2,155.4 531.5,154.6 531.8,153.2 532.2,152.0 532.5,151.2 532.8,150.0 533.1,148.7 533.5,147.9 533.8,146.5 534.1,145.8 534.4,144.6 534.8,143.4 535.1,142.2 535.5,140.8 535.8,139.8 536.1,138.8 536.3,138.1 536.6,136.6 536.9,135.9 537.2,134.2 537.6,133.1 537.8,132.1 538.1,131.4 538.4,130.1 538.8,128.7 539.2,127.5 539.6,126.0 539.9,125.0 540.6,123.4 541.2,121.8 541.6,120.7 542.0,119.6 542.3,118.4 542.6,117.4 542.9,116.4 543.3,115.6 543.6,114.3 544.0,113.2 544.3,111.8 544.7,110.8 545.0,109.8 545.3,108.8 545.7,107.6 546.0,106.8 546.5,105.9 546.9,104.4 547.4,103.4 547.8,102.5 548.7,101.1 549.5,99.7 550.3,98.0 551.1,96.9 551.8,96.1 552.5,95.4 553.2,95.1 553.8,94.6 554.4,94.7 555.0,94.8 555.7,95.7 556.4,96.2 557.2,96.8 557.9,98.5 558.6,99.7 558.9,100.8 559.2,102.0 559.6,103.1 559.9,104.2 560.2,105.4 560.5,106.6 560.7,108.0 560.9,108.8 561.1,110.0 561.3,111.4 561.5,112.5 561.7,114.0 561.8,115.2 562.0,116.2 562.1,117.1 562.2,118.2 562.4,119.4 562.6,120.5 562.8,122.1 563.0,123.1 563.2,124.5 563.4,125.8 563.6,126.7 563.8,127.9 563.9,129.2 564.1,130.2 564.3,131.2 564.5,132.6 564.7,133.9 564.8,135.0 565.0,136.1 565.1,137.3 565.3,138.4 565.4,139.5 565.6,140.5 565.7,141.6 565.8,142.9 565.9,143.7 566.1,145.1 566.2,146.4 566.3,147.6 566.4,148.8 566.5,149.9 566.6,151.0 566.7,152.0 566.7,153.1 566.8,154.1 566.9,155.3 567.0,156.5 567.0,157.2 567.1,158.6 567.2,159.7 567.2,160.7 567.3,161.8 567.4,163.2 567.4,163.8 567.5,165.2 567.5,166.1 567.6,167.5 567.6,168.8 567.7,169.7 567.7,170.6 567.8,172.0 567.8,173.1 567.9,174.4 567.9,175.4 567.9,176.7 568.0,177.9 568.0,178.8 568.1,179.9 568.1,181.3 568.2,182.2 568.2,183.8 568.3,184.9 568.4,186.2 568.5,187.0 568.5,188.6 568.6,189.7 568.8,191.0 568.9,192.4 569.1,193.7 569.3,194.6 569.5,196.0 570.1,197.9 570.7,199.6 571.5,200.8 572.3,202.2 573.2,203.8 574.1,205.6 575.2,207.3 576.6,208.4 577.5,208.8 578.4,209.6 579.5,209.9 580.5,210.3 581.7,210.6 582.9,211.3 584.1,211.7 585.4,212.0 586.8,212.2 588.1,212.5 589.6,212.6 591.1,213.1 592.1,213.0 593.2,213.2 594.2,213.5 595.3,213.6 596.5,213.5 597.6,213.6 598.6,213.8 599.6,213.7 600.6,214.2 601.6,214.1 602.8,214.5 603.9,214.3 605.1,214.5 606.2,214.5 607.3,214.7 608.3,214.7 609.4,214.7 610.4,215.2 611.8,215.1 613.3,215.3" fill="none" stroke="#7844bd" stroke-width="2.7" stroke-linejoin="round" stroke-linecap="round" />
<polyline points="463.0,245.5 463.8,244.9 464.5,244.2 465.6,243.3 466.7,242.3 467.5,241.5 468.3,241.1 469.1,240.4 470.3,239.1 471.4,238.7 472.4,238.1 473.4,237.5 474.4,236.8 475.4,236.7 476.4,236.3 477.4,235.6 478.6,235.2 479.7,235.3 481.0,234.8 482.4,234.1 483.4,233.8 484.4,233.5 485.4,233.3 486.4,233.3 487.4,232.8 488.3,232.4 489.6,232.4 490.9,231.9 491.9,231.3 493.0,231.3 494.7,230.6 496.3,230.0 497.8,228.9 499.2,227.7 499.9,226.8 500.5,226.1 501.1,224.8 501.7,224.1 502.2,222.9 502.7,221.9 503.1,220.4 503.5,219.2 503.8,217.9 504.0,216.7 504.2,215.6 504.4,214.4 504.6,213.5 504.8,212.1 505.0,211.3 505.3,210.1 505.5,209.3 505.9,207.9 506.3,206.6 506.8,205.5 507.2,203.8 507.7,203.0 508.1,201.7 508.6,200.6 509.0,199.6 509.8,197.9 510.6,196.2 511.5,194.6 512.0,193.8 512.5,192.3 512.9,191.6 513.3,190.6 513.7,189.3 514.2,188.5 514.7,187.3 515.1,186.3 515.5,185.1 515.9,184.5 516.2,183.3 516.6,182.3 517.0,181.6 517.4,180.2 517.7,179.6 518.1,178.6 518.5,177.4 518.9,176.7 519.2,175.5 519.6,174.6 520.0,173.6 520.4,172.7 520.8,171.4 521.2,170.5 521.6,169.5 522.0,168.5 522.4,167.6 522.8,166.2 523.2,165.4 523.6,164.0 524.0,162.9 524.4,161.7 524.7,160.8 525.1,160.0 525.4,158.8 525.7,157.8 526.0,156.5 526.4,155.4 526.7,154.2 527.1,153.3 527.4,152.1 527.7,151.1 528.1,149.6 528.4,148.9 528.7,147.9 529.0,146.6 529.3,145.2 529.7,144.2 530.0,142.9 530.4,141.9 530.7,141.1 531.0,139.9 531.3,138.9 531.7,138.0 532.0,137.0 532.4,135.8 532.7,134.8 533.1,133.8 533.4,132.8 533.8,131.8 534.1,130.8 534.5,129.4 534.9,128.5 535.2,127.3 535.6,126.3 536.0,124.9 536.3,123.9 536.7,122.8 537.0,122.1 537.4,121.1 537.8,119.8 538.1,118.6 538.5,117.7 538.9,116.6 539.2,115.4 539.6,114.2 539.9,113.2 540.2,112.2 540.6,111.1 540.9,110.2 541.3,109.1 541.6,108.1 542.0,106.4 542.3,105.5 542.7,104.1 543.0,103.0 543.3,102.2 543.7,100.9 544.0,100.0 544.3,98.7 544.6,97.5 544.9,96.6 545.3,95.6 545.6,94.6 546.0,93.4 546.5,91.9 547.0,90.6 547.4,89.5 547.9,88.9 548.6,87.2 549.4,85.8 550.1,84.5 550.7,83.4 551.3,82.8 552.0,81.8 552.7,81.7 553.4,80.9 554.2,81.2 555.0,80.8 555.9,81.0 556.8,81.8 557.7,82.1 558.5,83.1 559.2,83.7 559.8,84.7 560.4,86.2 561.0,87.6 561.6,89.2 562.1,90.8 562.4,91.5 562.7,92.7 562.9,93.9 563.2,95.0 563.4,96.2 563.6,96.8 563.7,98.2 563.9,99.2 564.1,100.0 564.3,101.1 564.4,102.7 564.6,103.9 564.8,104.8 564.9,106.1 565.1,107.4 565.2,108.3 565.3,109.8 565.4,110.7 565.6,111.6 565.7,112.9 565.8,114.1 565.9,115.2 566.0,116.4 566.1,117.3 566.2,118.7 566.3,119.7 566.4,120.9 566.5,122.1 566.6,123.1 566.7,124.3 566.8,125.6 567.0,126.9 567.1,127.9 567.2,129.0 567.3,130.0 567.4,131.1 567.5,132.7 567.6,133.8 567.7,135.0 567.8,135.9 567.9,137.2 567.9,138.6 568.0,139.6 568.1,140.7 568.1,141.7 568.2,142.9 568.3,144.3 568.3,145.2 568.4,146.5 568.4,147.7 568.5,149.0 568.5,150.2 568.5,151.1 568.6,152.2 568.6,153.5 568.7,154.8 568.7,156.1 568.7,157.4 568.8,158.7 568.8,159.5 568.9,161.2 568.9,162.5 569.0,163.9 569.0,165.0 569.0,166.0 569.1,167.5 569.1,168.6 569.1,169.6 569.2,171.0 569.2,172.0 569.3,173.1 569.3,174.5 569.3,175.8 569.4,176.7 569.4,178.2 569.5,179.4 569.6,180.3 569.6,181.8 569.7,183.1 569.8,184.3 570.0,185.4 570.2,187.1 570.6,188.7 571.0,189.8 571.5,190.8 572.0,191.4 572.7,192.5 573.5,193.1 574.4,193.6 575.5,194.4 576.7,195.2 578.4,195.9 579.5,196.1 580.6,196.5 581.9,196.9 583.1,197.2 584.5,197.6 585.9,197.9 587.4,198.6 588.8,198.7 590.3,199.1 591.7,199.3 592.7,199.5 593.8,199.5 594.8,199.6 595.8,200.2 596.9,200.0 597.9,200.0 598.9,200.4 600.0,200.6 601.0,200.4 602.1,200.8 603.2,200.8 604.4,201.1 605.5,201.0 606.7,201.2 607.9,201.8 609.0,201.9 610.0,201.8 611.1,202.0 612.2,202.0 613.3,202.4" fill="none" stroke="#2a2580" stroke-width="2.7" stroke-linejoin="round" stroke-linecap="round" />
<circle cx="498.8" cy="229.2" r="5.6" fill="none" stroke="#111" stroke-width="1.3"/>
<circle cx="503.7" cy="256.3" r="5.6" fill="none" stroke="#111" stroke-width="1.3"/>
<circle cx="513.3" cy="271.3" r="5.6" fill="none" stroke="#111" stroke-width="1.3"/>
<circle cx="524.3" cy="273.8" r="5.6" fill="none" stroke="#111" stroke-width="1.3"/>
<circle cx="572.6" cy="192.4" r="5.6" fill="none" stroke="#111" stroke-width="1.3"/>
<circle cx="572.3" cy="204.4" r="5.6" fill="none" stroke="#111" stroke-width="1.3"/>
<circle cx="556.4" cy="222.2" r="5.6" fill="none" stroke="#111" stroke-width="1.3"/>
<circle cx="566.8" cy="224.7" r="5.6" fill="none" stroke="#111" stroke-width="1.3"/>
<g fill="#3d43b3"><circle cx="554.50" cy="70.2" r="2.1"/><circle cx="554.15" cy="78.0" r="2.1"/><circle cx="553.80" cy="85.7" r="2.1"/><circle cx="553.46" cy="93.5" r="2.1"/><circle cx="553.11" cy="101.2" r="2.1"/><circle cx="552.76" cy="109.0" r="2.1"/><circle cx="552.41" cy="116.7" r="2.1"/><circle cx="552.06" cy="124.5" r="2.1"/><circle cx="551.72" cy="132.2" r="2.1"/><circle cx="551.37" cy="139.9" r="2.1"/><circle cx="551.02" cy="147.7" r="2.1"/><circle cx="550.67" cy="155.4" r="2.1"/><circle cx="550.32" cy="163.2" r="2.1"/><circle cx="549.98" cy="170.9" r="2.1"/><circle cx="549.63" cy="178.7" r="2.1"/><circle cx="549.28" cy="186.4" r="2.1"/><circle cx="548.93" cy="194.2" r="2.1"/><circle cx="548.58" cy="201.9" r="2.1"/><circle cx="548.24" cy="209.7" r="2.1"/><circle cx="547.89" cy="217.4" r="2.1"/><circle cx="547.54" cy="225.2" r="2.1"/><circle cx="547.19" cy="232.9" r="2.1"/><circle cx="546.84" cy="240.7" r="2.1"/><circle cx="546.50" cy="248.4" r="2.1"/><circle cx="546.15" cy="256.2" r="2.1"/><circle cx="545.80" cy="263.9" r="2.1"/><circle cx="545.45" cy="271.7" r="2.1"/><circle cx="545.10" cy="279.4" r="2.1"/><circle cx="544.76" cy="287.2" r="2.1"/><circle cx="544.41" cy="294.9" r="2.1"/><circle cx="544.06" cy="302.7" r="2.1"/><circle cx="543.71" cy="310.4" r="2.1"/><circle cx="543.36" cy="318.2" r="2.1"/><circle cx="543.02" cy="325.9" r="2.1"/></g>
<circle cx="546.3" cy="258.2" r="5.3" fill="#3d43b3"/>
<circle cx="546.9" cy="276.8" r="5.3" fill="#3d43b3"/>
<circle cx="543" cy="290.5" r="5.3" fill="#3d43b3"/>
<circle cx="542.9" cy="303" r="5.3" fill="#3d43b3"/>
<circle cx="543.5" cy="321.2" r="5.3" fill="#3d43b3"/>
</g>
<path d="M463.4,487.2h6.3M614.0,487.2h-6.3M463.4,438.6h6.3M614.0,438.6h-6.3M463.4,390.0h6.3M614.0,390.0h-6.3M467.4,364.4v6.3M467.4,510.8v-6.3M515.7,364.4v6.3M515.7,510.8v-6.3M564.0,364.4v6.3M564.0,510.8v-6.3M612.3,364.4v6.3M612.3,510.8v-6.3" stroke="#000" stroke-width="1.6" fill="none"/>
<rect x="463.4" y="364.4" width="150.6" height="146.4" fill="none" stroke="#000" stroke-width="1.6"/>
<clipPath id="cc"><rect x="464.2" y="365.2" width="149" height="144.8"/></clipPath><g clip-path="url(#cc)">
<polyline points="463.0,468.5 463.9,470.6 465.2,470.4 466.6,471.1 468.0,472.3 469.3,470.8 470.6,471.3 471.8,473.1 473.0,474.0 474.0,474.3 474.9,474.7 475.8,476.8 476.8,478.3 477.9,477.3 479.1,479.3 480.4,479.6 481.8,477.4 483.3,480.2 484.1,480.0 484.9,479.7 485.7,483.1 486.5,481.3 487.3,482.9 488.1,483.8 488.9,485.5 489.7,485.1 490.5,484.8 491.3,485.7 492.0,485.3 492.8,488.6 494.4,489.4 496.0,486.9 497.5,486.0 499.0,486.2 500.6,485.9 502.2,487.0 503.0,486.6 503.7,485.9 504.5,482.7 505.3,484.7 506.1,483.9 506.9,483.1 507.7,483.7 508.5,479.9 509.3,479.5 510.1,481.0 510.9,480.9 511.7,479.4 512.5,477.5 513.2,477.9 514.5,477.6 515.8,474.8 517.0,474.7 517.6,473.8 518.2,472.6 518.6,473.0 519.1,471.2 519.5,470.6 519.9,469.3 520.3,470.0 520.8,466.8 521.2,468.1 521.6,465.3 522.0,463.7 522.4,465.8 522.8,462.5 523.2,464.1 523.7,462.9 524.3,462.0 525.3,458.0 526.2,457.7 527.0,454.9 527.4,456.8 527.7,455.6 528.0,454.0 528.3,452.4 528.6,451.0 528.9,451.7 529.2,449.6 529.5,449.2 530.1,445.9 530.8,444.6 531.4,442.5 532.0,443.2 532.5,441.4 533.0,438.8 533.5,439.9 533.9,436.9 534.2,436.4 534.5,434.6 534.8,434.1 535.2,435.1 535.5,432.2 535.9,430.5 536.3,430.5 536.6,429.1 536.9,430.2 537.2,426.6 537.5,428.7 537.8,424.5 538.2,426.4 538.5,424.6 538.8,422.1 539.1,422.2 539.3,420.7 539.7,419.4 540.1,418.0 540.4,417.5 540.8,418.5 541.1,417.6 541.5,416.4 541.9,412.8 542.3,412.7 543.2,413.3 544.1,409.4 544.9,411.0 545.7,409.4 546.5,412.2 547.3,409.5 548.1,412.2 548.9,410.0 549.7,408.3 550.5,406.8 551.2,409.2 551.8,408.4 552.4,407.9 552.9,409.7 553.4,412.6 553.9,411.9 554.1,414.2 554.4,413.7 554.6,415.0 554.9,418.2 555.2,419.2 555.5,418.7 555.9,419.5 556.2,420.8 556.5,423.4 556.8,423.9 557.0,424.0 557.3,424.7 557.6,427.0 557.9,428.2 558.1,429.5 558.4,429.7 558.7,429.4 559.0,429.9 559.2,433.2 559.5,433.1 559.8,435.2 560.0,433.9 560.3,437.5 560.6,437.0 560.8,439.8 561.1,441.0 561.4,440.8 561.6,440.3 561.9,444.5 562.1,443.9 562.3,446.2 562.5,445.0 562.7,445.7 562.9,448.8 563.1,448.2 563.3,448.4 563.5,450.1 563.7,451.8 563.9,450.8 564.1,453.5 564.3,454.2 564.5,455.3 564.7,454.9 564.9,457.8 565.1,459.1 565.4,460.4 565.6,459.6 565.9,462.1 566.1,462.1 566.3,464.4 566.6,463.1 566.8,466.9 567.1,468.2 567.3,467.7 567.6,468.8 567.9,469.8 568.2,470.8 568.5,470.0 568.9,474.2 569.2,472.7 569.6,473.5 569.9,474.2 570.3,475.6 570.7,478.4 571.0,476.6 571.4,477.7 572.0,480.9 572.5,480.4 573.0,480.7 573.6,483.7 574.1,484.4 574.6,485.1 575.6,487.1 576.7,486.3 577.8,490.0 578.9,490.3 579.9,488.7 581.0,489.6 582.1,491.6 583.1,492.3 584.1,492.1 585.2,491.8 586.3,492.8 587.4,491.6 588.4,492.7 589.5,493.2 590.5,490.2 591.5,491.0 592.5,491.0 593.7,488.8 595.1,491.2 596.8,492.2 597.6,490.7 598.4,491.1 600.1,493.2 601.7,492.8 603.3,493.1 604.9,495.5 606.5,495.0 607.4,493.2 608.3,492.5 609.2,492.2 610.1,491.9 610.9,493.1 611.8,491.8 612.9,491.3" fill="none" stroke="#111" stroke-width="2.5" stroke-linejoin="round" stroke-linecap="round" />
<polyline points="463.0,486.2 463.9,486.1 464.8,483.1 465.7,484.5 466.5,485.9 467.4,485.6 468.3,482.9 469.3,483.3 470.3,483.9 471.2,482.8 472.1,483.2 473.0,481.4 473.8,482.8 474.6,483.0 475.5,481.3 476.3,481.8 477.1,484.8 477.9,484.2 478.7,484.9 479.5,483.9 480.4,484.6 481.2,484.9 482.1,484.9 483.0,481.8 484.0,483.9 484.9,482.5 485.9,483.9 486.9,482.4 487.9,483.2 488.9,484.5 489.9,483.3 490.9,481.8 492.0,482.6 493.0,482.1 494.0,483.8 495.0,481.2 496.0,481.1 497.1,482.1 498.1,480.0 498.9,481.6 499.7,482.7 500.5,480.9 501.2,479.9 502.3,480.3 503.3,480.3 504.3,478.7 505.2,478.3 506.1,478.0 507.0,478.3 507.8,478.3 508.5,477.6 509.3,477.1 510.3,475.9 511.3,477.0 512.2,477.4 513.2,476.0 513.8,475.3 514.4,475.1 515.0,472.9 515.6,474.1 516.2,472.5 516.8,472.1 517.4,471.5 518.0,470.2 518.6,468.8 519.1,467.7 519.7,466.9 520.2,467.1 520.8,466.0 521.3,466.1 521.9,463.3 522.7,463.9 523.5,465.1 524.3,462.4 525.1,463.1 525.9,462.5 526.6,461.3 527.4,463.5 528.2,460.6 529.0,461.8 529.9,459.1 530.7,458.3 531.6,460.7 532.4,458.7 533.2,456.9 534.5,457.2 535.3,456.5 535.8,456.7 536.2,453.7 537.0,453.4 538.2,455.4 539.0,454.3 539.7,451.9 540.5,452.4 541.3,452.2 542.7,453.3 543.8,453.6 544.8,455.3 545.8,456.2 547.0,456.0 548.5,457.3 549.3,457.5 550.1,457.8 550.9,457.0 551.8,458.4 552.6,458.4 553.4,459.5 554.2,457.1 555.0,460.2 555.8,457.6 556.5,460.8 557.3,460.7 558.1,460.9 558.9,463.2 559.7,462.5 560.5,462.6 561.3,464.7 562.1,465.8 562.9,465.6 563.7,465.7 564.5,466.8 565.3,467.6 566.1,469.4 566.9,468.7 567.6,469.9 568.3,471.3 569.0,471.5 569.8,472.1 570.6,474.6 571.6,475.5 572.5,475.0 573.3,475.2 574.1,474.7 574.9,475.5 575.7,475.3 576.6,477.3 577.5,477.7 578.5,476.2 579.4,479.5 580.4,477.7 581.3,479.9 582.2,480.1 583.1,480.9 584.0,478.4 584.9,479.4 585.7,481.4 586.6,478.3 587.5,478.6 588.4,480.7 589.3,480.6 590.2,482.3 591.0,481.9 591.9,481.2 592.8,483.0 593.7,481.5 594.6,481.6 595.5,482.4 596.4,481.6 597.3,481.6 598.2,482.7 599.1,482.0 600.0,484.3 600.9,483.5 601.8,483.1 602.7,481.8 603.5,482.9 604.4,483.1 605.3,483.8 606.1,484.0 607.0,485.2 607.9,485.6 608.7,484.0 609.6,484.0 610.8,484.8 611.9,486.2 612.7,483.9 613.5,484.7" fill="none" stroke="#8c8c8c" stroke-width="2.3" stroke-linejoin="round" stroke-linecap="round" />
<polyline points="463.0,473.0 463.8,472.3 465.0,472.8 466.4,474.1 468.0,474.4 469.8,474.7 470.8,474.6 471.8,476.1 472.8,476.3 473.9,477.0 474.9,477.7 476.0,478.0 477.1,477.8 478.2,477.9 479.3,478.5 480.4,479.3 481.6,479.7 482.7,479.7 483.9,480.1 485.0,481.2 486.1,481.6 487.2,481.8 488.4,483.2 489.5,483.2 490.6,482.8 491.8,483.8 492.9,484.6 494.0,484.2 495.1,484.8 496.2,484.0 497.4,484.3 498.5,485.0 499.6,484.4 500.8,484.3 501.9,483.4 503.0,483.5 504.2,483.1 505.3,482.3 506.5,482.3 507.8,481.5 508.9,481.6 510.0,480.3 511.0,479.5 512.0,478.5 513.6,477.4 514.8,477.1 515.9,475.0 517.0,473.4 517.5,472.6 518.0,472.2 518.4,471.6 518.9,470.3 519.3,469.5 519.7,467.3 520.2,466.1 520.7,466.0 521.3,464.1 521.9,463.3 522.3,461.9 522.7,460.7 523.2,459.9 523.6,458.7 524.0,458.9 524.5,457.6 525.1,456.0 525.7,454.9 526.3,453.8 526.8,452.3 527.4,452.6 527.9,451.3 528.9,450.2 530.0,447.9 531.2,446.6 532.4,444.7 533.6,443.1 534.5,443.1 535.1,442.1 535.3,440.6 535.7,440.7 536.4,439.3 537.1,437.7 537.7,437.1 538.6,436.4 539.4,434.6 540.3,434.0 541.2,431.8 541.9,431.1 542.7,430.7 543.9,428.9 545.0,428.3 546.0,428.7 547.0,428.2 548.1,429.0 549.1,429.0 550.1,429.9 551.2,431.2 552.3,432.1 553.4,434.4 554.4,434.8 555.5,436.8 556.0,437.1 556.6,438.6 557.1,439.4 557.6,440.5 558.1,441.1 558.6,442.3 559.2,444.5 559.7,445.0 560.2,446.1 560.8,447.3 561.3,448.8 561.9,450.1 562.4,451.1 562.9,453.4 563.5,454.3 564.0,455.4 564.5,457.6 565.1,458.1 565.4,459.3 565.8,461.0 566.1,460.9 566.6,462.7 567.1,464.6 567.7,465.8 568.2,466.0 568.7,467.3 569.2,468.8 570.2,469.9 571.3,472.2 572.5,472.5 574.0,474.7 575.6,475.1 577.3,475.7 578.9,477.0 580.4,477.7 581.9,479.7 583.5,480.1 585.2,482.0 586.2,481.9 587.1,481.9 588.1,482.1 589.2,482.9 590.3,482.5 591.4,483.7 592.5,482.8 593.7,483.5 595.0,483.6 596.3,483.3 597.6,484.0 599.0,483.5 600.4,483.8 601.8,483.6 603.1,483.3 604.4,483.3 605.7,482.9 607.0,483.0 608.3,484.0 609.6,483.2 610.8,483.7 611.9,483.0 613.5,483.6" fill="none" stroke="#d63a2c" stroke-width="1.3" stroke-linejoin="round" stroke-linecap="round" />
<polyline points="463.0,475.8 463.9,476.5 464.8,475.8 465.7,474.9 466.6,476.1 467.4,475.8 468.4,475.5 469.4,478.1 470.3,476.4 471.2,477.0 472.1,479.2 473.0,478.8 474.1,479.3 475.2,479.4 476.2,476.5 477.2,477.2 478.3,476.2 479.4,479.0 480.2,478.9 481.0,477.6 481.8,477.8 482.8,478.7 483.7,478.8 484.7,476.7 485.5,479.1 486.3,476.8 487.1,477.8 487.9,475.8 488.7,475.3 489.5,478.5 490.3,477.5 491.2,477.2 492.0,474.3 492.8,474.1 493.6,474.4 494.4,474.4 495.2,474.8 496.0,475.0 496.8,473.4 497.6,474.5 498.4,475.8 499.3,473.8 500.1,476.5 500.9,475.3 501.9,475.7 503.0,473.7 504.0,474.3 505.0,475.1 505.9,473.5 506.9,471.8 507.8,474.9 508.6,474.3 509.5,471.9 510.3,470.5 511.1,473.4 511.9,471.9 512.5,469.1 513.2,469.5 513.9,468.4 514.8,470.7 515.7,467.6 516.3,470.0 516.9,468.7 517.7,464.9 518.4,466.5 519.4,464.7 520.8,466.0 522.3,466.7 523.1,464.5 524.0,463.9 524.8,467.5 525.7,465.4 526.6,467.3 527.5,466.2 528.5,466.1 529.4,466.2 530.4,465.1 531.3,464.0 532.3,462.1 533.2,464.6 534.1,463.4 535.0,463.6 536.0,465.3 536.9,461.9 537.8,464.6 538.6,461.5 540.0,464.1 540.9,464.0 541.4,461.1 541.9,461.7 542.7,463.2 544.0,461.8 544.9,461.5 545.7,460.3 546.5,459.7 547.4,461.1 548.3,461.6 549.1,460.9 549.9,461.7 550.7,461.3 551.5,464.1 552.3,464.3 553.1,462.9 553.9,463.4 554.7,465.0 555.5,465.2 556.3,467.7 557.1,465.8 557.9,466.1 558.7,469.1 559.5,466.5 560.3,468.9 561.1,468.5 561.9,471.0 562.7,470.4 563.4,471.9 564.2,469.9 564.9,472.6 565.7,472.8 566.5,472.8 567.3,474.5 568.2,475.3 569.2,472.7 570.2,473.9 571.2,474.5 572.3,474.3 573.4,474.0 574.5,475.3 575.6,475.4 576.7,477.9 577.8,477.4 578.8,476.5 579.5,477.8 580.2,478.8 581.0,478.7 581.7,478.3 582.4,478.3 583.1,478.4 584.1,483.0 585.2,482.5 586.3,480.0 587.3,482.9 588.4,484.3 589.5,482.7 590.5,481.0 591.6,482.8 592.6,482.9 593.7,482.2 594.4,484.0 595.2,482.0 595.9,486.2 596.7,485.4 597.5,485.6 598.2,487.3 599.0,486.5 599.7,485.2 600.4,485.5 601.3,485.6 602.2,485.7 602.8,489.4 603.5,490.1 604.4,488.8 605.2,489.4 606.0,492.6 606.3,494.3 606.6,495.4 607.0,493.0 607.2,496.4 607.4,497.4 607.7,497.8 607.9,496.9 608.4,497.3 608.8,501.1 609.5,498.2 609.6,497.6 609.6,497.6 609.7,496.0 609.8,497.1 609.8,493.8 609.9,492.1 609.9,493.5 609.9,492.9 610.0,492.8 610.0,491.4 610.0,491.4 610.0,490.7 610.0,487.9 610.1,487.1 610.1,484.7 610.1,484.5 610.1,484.8 610.1,481.8 610.1,483.5 610.1,480.4 610.1,480.7 610.2,482.1 610.2,477.5 610.2,476.4 610.2,477.2 610.2,475.3 610.2,476.7 610.2,472.9 610.2,475.6 610.2,474.8 610.3,473.7 610.3,471.3 610.3,469.9 610.3,470.7 610.3,469.2 610.3,468.0 610.4,466.8 610.4,466.4 610.4,466.5 610.4,466.4 610.4,465.8 610.4,461.9 610.5,461.6 610.5,461.4 610.5,461.1 610.5,459.3 610.5,457.9 610.5,456.6 610.5,456.7 610.6,456.5 610.6,457.8 610.6,456.7 610.6,455.7 610.6,455.3 610.6,454.4 610.7,452.1 610.7,452.1 610.8,448.2 610.9,451.8 610.9,452.5 611.0,452.2 611.0,454.2 611.0,456.6 611.0,455.5 611.0,457.0 611.1,456.4 611.1,457.4 611.1,460.5 611.1,457.7 611.1,459.2 611.2,462.0 611.2,461.9 611.2,461.1 611.2,464.4 611.2,464.0 611.3,465.6 611.3,465.7 611.3,467.0 611.3,468.0 611.3,468.1 611.4,467.7 611.4,468.8 611.4,472.6 611.4,472.0 611.4,470.9 611.5,474.9 611.5,473.2 611.5,473.3 611.5,476.0 611.5,475.7 611.6,477.5 611.6,478.7 611.6,478.2 611.6,480.5 611.7,479.4 611.7,482.0 611.7,483.1 611.7,481.9 611.7,484.1 611.8,483.6 611.8,486.0 611.8,488.7 611.8,488.3 611.8,489.8 611.9,490.9 611.9,489.1 611.9,493.6 611.9,493.3 612.0,491.6 612.0,495.5 612.0,494.5 612.0,494.4 612.1,498.6 612.1,497.7 612.1,499.5 612.2,497.6 612.3,501.2 612.3,497.3 612.4,497.2 612.4,496.9 612.4,494.5 612.4,496.1 612.5,493.6 612.5,493.1 612.5,494.0 612.5,492.0 612.5,493.2 612.5,491.2 612.6,491.4 612.6,489.3 612.6,490.0 612.6,489.0 612.6,485.2 612.6,486.8 612.6,484.3 612.6,485.2 612.7,484.1 612.7,483.9 612.7,480.1 612.7,480.3 612.7,480.9 612.7,481.0 612.7,479.2 612.7,475.5 612.8,477.0 612.8,474.0 612.8,475.1 612.8,475.3 612.8,471.5 612.8,474.1 612.8,472.2 612.8,469.6 612.8,468.5 612.9,468.7 612.9,469.6 612.9,467.7 612.9,464.9 612.9,463.7 612.9,463.2 612.9,465.3 612.9,461.9 613.0,462.7 613.0,460.7 613.0,461.6 613.0,459.5 613.0,457.7 613.0,459.9 613.0,457.7 613.1,457.5 613.1,457.1 613.1,456.9 613.1,452.1 613.1,452.7 613.1,450.9 613.2,451.5 613.2,452.1 613.2,450.9 613.2,446.8 613.2,446.5 613.2,448.1 613.3,446.5 613.3,444.2 613.4,444.9 613.4,444.4 613.4,448.2 613.4,447.1 613.5,450.0 613.5,449.8 613.5,448.4 613.5,450.3 613.5,450.7 613.5,454.3 613.5,453.9 613.5,452.4 613.6,453.7 613.6,455.3 613.6,456.6 613.6,457.8 613.6,457.9 613.6,458.5 613.6,457.9 613.6,461.1 613.6,460.9 613.6,460.4 613.6,463.1 613.6,466.1 613.7,463.0 613.7,464.3 613.7,467.3 613.7,466.5 613.7,467.4 613.7,469.2 613.7,469.0 613.7,471.1 613.7,471.8 613.7,474.5 613.7,475.4 613.7,472.2 613.8,475.3 613.8,477.0 613.8,478.2 613.8,478.7 613.8,478.9 613.8,479.7 613.8,479.4" fill="none" stroke="#62c12a" stroke-width="2.5" stroke-linejoin="round" stroke-linecap="round" />
<polyline points="463.0,480.4 464.1,482.8 465.2,483.3 466.0,483.6 466.9,482.6 467.7,481.0 468.5,483.1 469.4,483.1 470.3,482.1 471.2,482.8 472.1,481.6 472.9,482.6 473.8,482.0 474.6,480.6 475.5,481.9 476.5,482.0 477.6,485.0 478.6,482.9 479.7,482.6 480.7,482.2 481.8,482.3 482.9,482.9 483.9,482.1 485.0,481.7 486.0,485.5 487.1,483.7 488.1,483.7 489.1,484.1 490.2,482.8 491.2,482.1 492.3,481.4 493.3,482.2 494.3,482.0 495.1,483.6 495.9,482.6 496.7,484.2 497.5,481.3 498.5,483.7 499.6,482.0 500.6,479.6 501.6,479.9 502.7,481.5 503.7,483.1 504.8,480.3 505.8,482.0 506.9,480.4 508.0,482.2 509.0,478.6 510.1,480.4 511.1,482.1 512.2,479.2 513.2,479.0 514.3,477.9 515.3,478.4 516.4,478.7 517.2,480.5 518.0,478.2 518.8,478.9 519.6,478.0 520.6,479.6 521.7,480.5 522.7,479.4 523.7,477.3 524.7,479.4 525.7,480.2 526.7,478.4 527.6,475.8 528.6,478.7 529.5,478.6 530.5,475.9 531.4,474.6 532.3,474.5 533.2,475.8 534.1,477.0 535.2,475.8 536.4,476.9 537.3,474.1 538.3,474.9 539.1,477.4 539.8,477.6 540.5,477.2 541.2,479.1 542.0,478.1 542.7,477.3 543.5,478.9 544.3,477.4 545.1,479.8 545.9,478.4 546.7,478.9 547.5,479.2 548.3,477.4 549.1,478.0 549.9,475.7 550.7,479.3 551.5,477.1 552.3,478.4 553.1,473.8 553.9,475.8 554.7,476.2 555.5,474.2 556.3,473.5 557.0,474.1 557.7,474.6 558.4,478.0 559.2,475.7 560.0,479.6 561.0,478.4 561.9,479.4 562.7,479.8 563.5,479.8 564.3,480.4 565.1,480.2 566.0,479.1 566.9,481.0 567.9,478.9 568.8,481.0 569.8,481.3 570.7,481.4 571.6,479.4 572.5,481.5 573.4,482.5 574.3,480.3 575.1,479.7 576.0,480.8 576.9,482.8 577.8,479.4 578.7,478.9 579.6,481.1 580.5,482.0 581.3,482.5 582.2,480.8 583.1,483.6 584.0,480.1 584.9,482.4 585.7,479.4 586.6,478.9 587.5,479.3 588.4,478.8 589.3,480.6 590.2,480.7 591.0,478.9 591.9,482.3 592.8,479.7 593.7,478.8 594.6,479.1 595.5,481.7 596.4,482.7 597.3,479.7 598.2,479.4 599.1,483.0 600.0,481.0 600.9,484.5 601.8,482.7 602.7,483.6 603.5,482.6 604.4,484.8 605.3,483.5 606.1,483.0 607.0,485.7 607.9,482.3 608.7,485.2 609.6,482.3 610.8,485.0 611.9,484.0 612.7,486.1 613.5,482.7" fill="none" stroke="#b845a8" stroke-width="2.6" stroke-linejoin="round" stroke-linecap="round" />
<g fill="#3d43b3"><circle cx="549.90" cy="369.6" r="2.1"/><circle cx="549.61" cy="377.4" r="2.1"/><circle cx="549.33" cy="385.2" r="2.1"/><circle cx="549.04" cy="393.0" r="2.1"/><circle cx="548.76" cy="400.8" r="2.1"/><circle cx="548.47" cy="408.6" r="2.1"/><circle cx="548.19" cy="416.4" r="2.1"/><circle cx="547.90" cy="424.2" r="2.1"/><circle cx="547.62" cy="432.0" r="2.1"/><circle cx="547.33" cy="439.8" r="2.1"/><circle cx="547.05" cy="447.6" r="2.1"/><circle cx="546.76" cy="455.4" r="2.1"/><circle cx="546.47" cy="463.2" r="2.1"/><circle cx="546.19" cy="471.0" r="2.1"/><circle cx="545.90" cy="478.8" r="2.1"/><circle cx="545.62" cy="486.6" r="2.1"/><circle cx="545.33" cy="494.4" r="2.1"/><circle cx="545.05" cy="502.2" r="2.1"/><circle cx="544.76" cy="510.0" r="2.1"/></g>
</g>
<text x="0.00" y="0.00" font-family="Liberation Sans" font-style="normal" font-weight="normal" font-size="19.00" fill="#111" stroke="#111" stroke-width="0.3" transform="translate(39.07,516.32) scale(1,1.04)">0</text>
<text x="0.00" y="0.00" font-family="Liberation Sans" font-style="normal" font-weight="normal" font-size="19.00" fill="#111" stroke="#111" stroke-width="0.3" transform="translate(28.52,389.52) scale(1,1.04)">10</text>
<text x="0.00" y="0.00" font-family="Liberation Sans" font-style="normal" font-weight="normal" font-size="19.00" fill="#111" stroke="#111" stroke-width="0.3" transform="translate(28.52,262.72) scale(1,1.04)">20</text>
<text x="0.00" y="0.00" font-family="Liberation Sans" font-style="normal" font-weight="normal" font-size="19.00" fill="#111" stroke="#111" stroke-width="0.3" transform="translate(28.52,135.92) scale(1,1.04)">30</text>
<text x="0.00" y="0.00" font-family="Liberation Sans" font-style="normal" font-weight="normal" font-size="19.00" fill="#111" stroke="#111" stroke-width="0.3" transform="translate(331.68,532.45) scale(1,1.04)">0</text>
<text x="0.00" y="0.00" font-family="Liberation Sans" font-style="normal" font-weight="normal" font-size="19.00" fill="#111" stroke="#111" stroke-width="0.3" transform="translate(423.38,532.45) scale(1,1.04)">5</text>
<text x="0.00" y="0.00" font-family="Liberation Sans" font-style="normal" font-weight="normal" font-size="19.00" fill="#111" stroke="#111" stroke-width="0.3" transform="translate(47.55,532.45) scale(1,1.04)">-15</text>
<text x="0.00" y="0.00" font-family="Liberation Sans" font-style="normal" font-weight="normal" font-size="19.00" fill="#111" stroke="#111" stroke-width="0.3" transform="translate(139.16,532.45) scale(1,1.04)">-10</text>
<text x="0.00" y="0.00" font-family="Liberation Sans" font-style="normal" font-weight="normal" font-size="19.00" fill="#111" stroke="#111" stroke-width="0.3" transform="translate(235.90,532.45) scale(1,1.04)">-5</text>
<text x="0.00" y="0.00" font-family="Liberation Sans" font-style="normal" font-weight="normal" font-size="19.00" fill="#111" stroke="#111" stroke-width="0.3" transform="translate(69.01,46.95) scale(1,1.04)">20</text>
<text x="0.00" y="0.00" font-family="Liberation Sans" font-style="normal" font-weight="normal" font-size="19.00" fill="#111" stroke="#111" stroke-width="0.3" transform="translate(117.76,46.95) scale(1,1.04)">25</text>
<text x="0.00" y="0.00" font-family="Liberation Sans" font-style="normal" font-weight="normal" font-size="19.00" fill="#111" stroke="#111" stroke-width="0.3" transform="translate(166.51,46.95) scale(1,1.04)">30</text>
<text x="0.00" y="0.00" font-family="Liberation Sans" font-style="normal" font-weight="normal" font-size="19.00" fill="#111" stroke="#111" stroke-width="0.3" transform="translate(215.25,46.95) scale(1,1.04)">35</text>
<text x="0.00" y="0.00" font-family="Liberation Sans" font-style="normal" font-weight="normal" font-size="19.00" fill="#111" stroke="#111" stroke-width="0.3" transform="translate(264.10,46.95) scale(1,1.04)">40</text>
<text x="0.00" y="0.00" font-family="Liberation Sans" font-style="normal" font-weight="normal" font-size="19.00" fill="#111" stroke="#111" stroke-width="0.3" transform="translate(312.84,46.95) scale(1,1.04)">45</text>
<text x="0.00" y="0.00" font-family="Liberation Sans" font-style="normal" font-weight="normal" font-size="19.00" fill="#111" stroke="#111" stroke-width="0.3" transform="translate(361.31,46.95) scale(1,1.04)">50</text>
<text x="0.00" y="0.00" font-family="Liberation Sans" font-style="normal" font-weight="normal" font-size="19.00" fill="#111" stroke="#111" stroke-width="0.3" transform="translate(410.06,46.95) scale(1,1.04)">55</text>
<text x="0.00" y="0.00" font-family="Liberation Sans" font-style="normal" font-weight="normal" font-size="19.00" fill="#111" stroke="#111" stroke-width="0.3" transform="translate(456.81,46.95) scale(1,1.04)">30</text>
<text x="0.00" y="0.00" font-family="Liberation Sans" font-style="normal" font-weight="normal" font-size="19.00" fill="#111" stroke="#111" stroke-width="0.3" transform="translate(456.81,532.45) scale(1,1.04)">30</text>
<text x="0.00" y="0.00" font-family="Liberation Sans" font-style="normal" font-weight="normal" font-size="19.00" fill="#111" stroke="#111" stroke-width="0.3" transform="translate(505.30,46.95) scale(1,1.04)">40</text>
<text x="0.00" y="0.00" font-family="Liberation Sans" font-style="normal" font-weight="normal" font-size="19.00" fill="#111" stroke="#111" stroke-width="0.3" transform="translate(505.30,532.45) scale(1,1.04)">40</text>
<text x="0.00" y="0.00" font-family="Liberation Sans" font-style="normal" font-weight="normal" font-size="19.00" fill="#111" stroke="#111" stroke-width="0.3" transform="translate(553.41,46.95) scale(1,1.04)">50</text>
<text x="0.00" y="0.00" font-family="Liberation Sans" font-style="normal" font-weight="normal" font-size="19.00" fill="#111" stroke="#111" stroke-width="0.3" transform="translate(553.41,532.45) scale(1,1.04)">50</text>
<text x="0.00" y="0.00" font-family="Liberation Sans" font-style="normal" font-weight="normal" font-size="19.00" fill="#111" stroke="#111" stroke-width="0.3" transform="translate(601.61,46.95) scale(1,1.04)">60</text>
<text x="0.00" y="0.00" font-family="Liberation Sans" font-style="normal" font-weight="normal" font-size="19.00" fill="#111" stroke="#111" stroke-width="0.3" transform="translate(601.61,532.45) scale(1,1.04)">60</text>
<text x="621.39" y="125.26" font-family="Liberation Sans" font-style="normal" font-weight="normal" font-size="19.00" fill="#111" stroke="#111" stroke-width="0.3">0.20</text>
<text x="621.79" y="265.36" font-family="Liberation Sans" font-style="normal" font-weight="normal" font-size="19.00" fill="#111" stroke="#111" stroke-width="0.3">0.15</text>
<text x="621.47" y="395.25" font-family="Liberation Sans" font-style="normal" font-weight="normal" font-size="19.00" fill="#111" stroke="#111" stroke-width="0.3">4</text>
<text x="620.90" y="444.15" font-family="Liberation Sans" font-style="normal" font-weight="normal" font-size="19.00" fill="#111" stroke="#111" stroke-width="0.3">2</text>
<text x="621.09" y="492.76" font-family="Liberation Sans" font-style="normal" font-weight="normal" font-size="19.00" fill="#111" stroke="#111" stroke-width="0.3">0</text>
<text x="0.00" y="0.00" font-family="Liberation Sans" font-style="normal" font-weight="bold" font-size="33.46" fill="#111" stroke="#111" stroke-width="0.3" transform="translate(22.55,67.28) scale(1,1.12)">a</text>
<text x="626.24" y="66.78" font-family="Liberation Sans" font-style="normal" font-weight="bold" font-size="37.00" fill="#111" stroke="#111" stroke-width="0.3">b</text>
<text x="623.31" y="366.09" font-family="Liberation Sans" font-style="normal" font-weight="bold" font-size="35.91" fill="#111" stroke="#111" stroke-width="0.3">c</text>
<text x="203.58" y="16.25" font-family="Liberation Sans" font-style="italic" font-weight="normal" font-size="22.31" fill="#111" stroke="#111" stroke-width="0.3">B</text>
<text x="218.47" y="25.57" font-family="Liberation Sans" font-style="normal" font-weight="normal" font-size="17.56" fill="#111" stroke="#111" stroke-width="0.3">θ</text>
<text x="233.06" y="24.92" font-family="Liberation Sans" font-style="normal" font-weight="normal" font-size="19.79" fill="#111" stroke="#111" stroke-width="0.3">=</text>
<text x="250.15" y="25.48" font-family="Liberation Sans" font-style="normal" font-weight="normal" font-size="17.48" fill="#111" stroke="#111" stroke-width="0.3">0</text>
<text x="268.15" y="16.74" font-family="Liberation Sans" font-style="normal" font-weight="normal" font-size="23.38" fill="#111" stroke="#111" stroke-width="0.3">(T)</text>
<text x="502.42" y="16.95" font-family="Liberation Sans" font-style="italic" font-weight="normal" font-size="21.06" fill="#111" stroke="#111" stroke-width="0.3">B</text>
<text x="517.01" y="26.82" font-family="Liberation Sans" font-style="normal" font-weight="normal" font-size="12.74" fill="#111" stroke="#111" stroke-width="0.3">θ</text>
<text x="529.67" y="26.20" font-family="Liberation Sans" font-style="normal" font-weight="normal" font-size="13.61" fill="#111" stroke="#111" stroke-width="0.3">=</text>
<text x="543.80" y="26.81" font-family="Liberation Sans" font-style="normal" font-weight="normal" font-size="13.85" fill="#111" stroke="#111" stroke-width="0.3">0</text>
<text x="552.99" y="17.61" font-family="Liberation Sans" font-style="normal" font-weight="normal" font-size="22.58" fill="#111" stroke="#111" stroke-width="0.3">(T)</text>
<text x="502.42" y="558.75" font-family="Liberation Sans" font-style="italic" font-weight="normal" font-size="21.06" fill="#111" stroke="#111" stroke-width="0.3">B</text>
<text x="517.01" y="568.62" font-family="Liberation Sans" font-style="normal" font-weight="normal" font-size="12.74" fill="#111" stroke="#111" stroke-width="0.3">θ</text>
<text x="529.67" y="568.00" font-family="Liberation Sans" font-style="normal" font-weight="normal" font-size="13.61" fill="#111" stroke="#111" stroke-width="0.3">=</text>
<text x="543.80" y="568.61" font-family="Liberation Sans" font-style="normal" font-weight="normal" font-size="13.85" fill="#111" stroke="#111" stroke-width="0.3">0</text>
<text x="552.99" y="559.41" font-family="Liberation Sans" font-style="normal" font-weight="normal" font-size="22.58" fill="#111" stroke="#111" stroke-width="0.3">(T)</text>
<text x="171.06" y="560.95" font-family="Liberation Sans" font-style="italic" font-weight="normal" font-size="23.04" fill="#111" stroke="#111" stroke-width="0.3">E</text>
<text x="185.27" y="572.08" font-family="Liberation Sans" font-style="normal" font-weight="normal" font-size="19.50" fill="#111" stroke="#111" stroke-width="0.3">g</text>
<text x="203.22" y="569.60" font-family="Liberation Sans" font-style="normal" font-weight="normal" font-size="14.56" fill="#111" stroke="#111" stroke-width="0.3" letter-spacing="-0.3">θ=0</text>
<text x="229.45" y="560.76" font-family="Liberation Sans" font-style="normal" font-weight="normal" font-size="23.27" fill="#111" stroke="#111" stroke-width="0.3">(meV)</text>
<text x="-301.61" y="16.55" font-family="Liberation Sans" font-style="italic" font-weight="normal" font-size="24.00" fill="#111" stroke="#111" stroke-width="0.3" transform="rotate(-90)">T</text>
<text x="-288.99" y="26.34" font-family="Liberation Sans" font-style="normal" font-weight="normal" font-size="14.50" fill="#111" stroke="#111" stroke-width="0.3" transform="rotate(-90)">e</text>
<text x="-275.09" y="16.83" font-family="Liberation Sans" font-style="normal" font-weight="normal" font-size="24.20" fill="#111" stroke="#111" stroke-width="0.3" transform="rotate(-90)">(K)</text>
<text x="227.78" y="376.45" font-family="Liberation Sans" font-style="italic" font-weight="normal" font-size="27.39" fill="#111" stroke="#111" stroke-width="0.3">T</text>
<text x="243.51" y="388.15" font-family="Liberation Sans" font-style="normal" font-weight="normal" font-size="14.20" fill="#111" stroke="#111" stroke-width="0.3">EI</text>
<text x="194.99" y="154.25" font-family="Liberation Sans" font-style="italic" font-weight="normal" font-size="21.96" fill="#3d43b3" stroke="#3d43b3" stroke-width="0.3">B</text>
<text x="209.42" y="163.72" font-family="Liberation Sans" font-style="normal" font-weight="normal" font-size="13.36" fill="#3d43b3" stroke="#3d43b3" stroke-width="0.3">0</text>
<text x="223.61" y="153.83" font-family="Liberation Sans" font-style="normal" font-weight="normal" font-size="22.89" fill="#3d43b3" stroke="#3d43b3" stroke-width="0.3">=</text>
<text x="242.60" y="154.02" font-family="Liberation Sans" font-style="normal" font-weight="normal" font-size="22.58" fill="#3d43b3" stroke="#3d43b3" stroke-width="0.3">46</text>
<text x="275.66" y="154.25" font-family="Liberation Sans" font-style="normal" font-weight="normal" font-size="22.86" fill="#3d43b3">±</text>
<text x="294.34" y="154.25" font-family="Liberation Sans" font-style="normal" font-weight="normal" font-size="21.45" fill="#3d43b3" stroke="#3d43b3" stroke-width="0.3">1</text>
<text x="313.22" y="154.25" font-family="Liberation Sans" font-style="normal" font-weight="normal" font-size="21.60" fill="#3d43b3" stroke="#3d43b3" stroke-width="0.3">T</text>
<text x="496.45" y="71.00" font-family="Liberation Sans" font-style="normal" font-weight="normal" font-size="15.50" fill="#2a2580" stroke="#2a2580" stroke-width="0.3">5 K</text>
<text x="496.75" y="82.80" font-family="Liberation Sans" font-style="normal" font-weight="normal" font-size="15.50" fill="#7844bd" stroke="#7844bd" stroke-width="0.3">6 K</text>
<text x="496.75" y="94.70" font-family="Liberation Sans" font-style="normal" font-weight="normal" font-size="15.50" fill="#ea8a1f" stroke="#ea8a1f" stroke-width="0.3">8 K</text>
<text x="497.61" y="106.30" font-family="Liberation Sans" font-style="normal" font-weight="normal" font-size="15.50" fill="#8fd3e6" stroke="#8fd3e6" stroke-width="0.3">8.9 K</text>
<text x="488.25" y="119.09" font-family="Liberation Sans" font-style="normal" font-weight="normal" font-size="15.50" fill="#111" stroke="#111" stroke-width="0.3">10 K</text>
<text x="488.25" y="131.19" font-family="Liberation Sans" font-style="normal" font-weight="normal" font-size="15.50" fill="#d63a2c" stroke="#d63a2c" stroke-width="0.3">15 K</text>
<text x="488.25" y="143.59" font-family="Liberation Sans" font-style="normal" font-weight="normal" font-size="15.50" fill="#8c8c8c" stroke="#8c8c8c" stroke-width="0.3">20 K</text>
<text x="488.25" y="156.50" font-family="Liberation Sans" font-style="normal" font-weight="normal" font-size="15.50" fill="#62c12a" stroke="#62c12a" stroke-width="0.3">25 K</text>
<text x="488.25" y="167.40" font-family="Liberation Sans" font-style="normal" font-weight="normal" font-size="15.50" fill="#b845a8" stroke="#b845a8" stroke-width="0.3">35 K</text>
<text x="471.36" y="71.15" font-family="Liberation Sans" font-style="italic" font-weight="normal" font-size="15.50" fill="#2a2580" stroke="#2a2580" stroke-width="0.3">T</text>
<text x="485.08" y="70.83" font-family="Liberation Sans" font-style="normal" font-weight="normal" font-size="15.50" fill="#2a2580" stroke="#2a2580" stroke-width="0.3">=</text>
<text x="571.60" y="78.35" font-family="Liberation Sans" font-style="italic" font-weight="bold" font-size="17.54" fill="#3d43b3" stroke="#3d43b3" stroke-width="0.3">B</text>
<text x="586.05" y="79.36" font-family="Liberation Sans" font-style="italic" font-weight="bold" font-size="19.00" fill="#3d43b3" stroke="#3d43b3" stroke-width="0.3">′</text>
<text x="590.55" y="87.63" font-family="Liberation Sans" font-style="normal" font-weight="bold" font-size="10.80" fill="#3d43b3" stroke="#3d43b3" stroke-width="0.3">0</text>
<text x="557.34" y="331.05" font-family="Liberation Sans" font-style="italic" font-weight="bold" font-size="20.29" fill="#3d43b3" stroke="#3d43b3" stroke-width="0.3">B</text>
<text x="571.56" y="340.00" font-family="Liberation Sans" font-style="normal" font-weight="bold" font-size="11.30" fill="#3d43b3" stroke="#3d43b3" stroke-width="0.3">0</text>
<text x="562.66" y="389.15" font-family="Liberation Sans" font-style="italic" font-weight="bold" font-size="19.64" fill="#3d43b3" stroke="#3d43b3" stroke-width="0.3">B</text>
<text x="577.10" y="397.88" font-family="Liberation Sans" font-style="normal" font-weight="bold" font-size="10.80" fill="#3d43b3" stroke="#3d43b3" stroke-width="0.3">0</text>
<text x="497.65" y="383.50" font-family="Liberation Sans" font-style="normal" font-weight="normal" font-size="15.50" fill="#111" stroke="#111" stroke-width="0.3">10 K</text>
<text x="499.35" y="399.80" font-family="Liberation Sans" font-style="normal" font-weight="normal" font-size="15.50" fill="#d63a2c" stroke="#d63a2c" stroke-width="0.3">15 K</text>
<text x="499.35" y="414.10" font-family="Liberation Sans" font-style="normal" font-weight="normal" font-size="15.50" fill="#8c8c8c" stroke="#8c8c8c" stroke-width="0.3">20 K</text>
<text x="499.35" y="430.00" font-family="Liberation Sans" font-style="normal" font-weight="normal" font-size="15.50" fill="#62c12a" stroke="#62c12a" stroke-width="0.3">25 K</text>
<text x="499.35" y="445.19" font-family="Liberation Sans" font-style="normal" font-weight="normal" font-size="15.50" fill="#b845a8" stroke="#b845a8" stroke-width="0.3">35 K</text>
<text x="471.56" y="383.65" font-family="Liberation Sans" font-style="italic" font-weight="normal" font-size="15.50" fill="#111" stroke="#111" stroke-width="0.3">T</text>
<text x="485.38" y="383.43" font-family="Liberation Sans" font-style="normal" font-weight="normal" font-size="15.50" fill="#111" stroke="#111" stroke-width="0.3">=</text>
<text x="-222.36" y="665.75" font-family="Liberation Sans" font-style="italic" font-weight="normal" font-size="23.62" fill="#111" stroke="#111" stroke-width="0.3" transform="rotate(-90)">R</text>
<text x="-208.51" y="675.65" font-family="Liberation Sans" font-style="italic" font-weight="normal" font-size="16.00" fill="#111" stroke="#111" stroke-width="0.3" transform="rotate(-90)">zz</text>
<text x="-184.52" y="666.15" font-family="Liberation Sans" font-style="normal" font-weight="normal" font-size="22.86" fill="#111" stroke="#111" stroke-width="0.3" transform="rotate(-90)">(Ω)</text>
<text x="-537.18" y="660.82" font-family="Liberation Sans" font-style="normal" font-weight="normal" font-size="23.27" fill="#111" stroke="#111" stroke-width="0.3" transform="rotate(-90)">d</text>
<text x="-523.84" y="661.05" font-family="Liberation Sans" font-style="italic" font-weight="normal" font-size="23.04" fill="#111" stroke="#111" stroke-width="0.3" transform="rotate(-90)">R</text>
<text x="-506.49" y="670.65" font-family="Liberation Sans" font-style="italic" font-weight="normal" font-size="12.60" fill="#111" stroke="#111" stroke-width="0.3" transform="rotate(-90)">zz</text>
<text x="-490.85" y="660.81" font-family="Liberation Sans" font-style="normal" font-weight="normal" font-size="23.95" fill="#111" stroke="#111" stroke-width="0.3" transform="rotate(-90)">/</text>
<text x="-483.08" y="660.82" font-family="Liberation Sans" font-style="normal" font-weight="normal" font-size="23.27" fill="#111" stroke="#111" stroke-width="0.3" transform="rotate(-90)">d</text>
<text x="-470.69" y="661.05" font-family="Liberation Sans" font-style="italic" font-weight="normal" font-size="24.78" fill="#111" stroke="#111" stroke-width="0.3" transform="rotate(-90)">B</text>
<text x="-447.51" y="659.67" font-family="Liberation Sans" font-style="normal" font-weight="normal" font-size="22.75" fill="#111" stroke="#111" stroke-width="0.3" transform="rotate(-90)">(mΩT</text>
<text x="-389.93" y="646.15" font-family="Liberation Sans" font-style="normal" font-weight="normal" font-size="10.62" fill="#111" stroke="#111" stroke-width="0.3" transform="rotate(-90)">-1</text>
<text x="-378.56" y="659.87" font-family="Liberation Sans" font-style="normal" font-weight="normal" font-size="21.82" fill="#111" stroke="#111" stroke-width="0.3" transform="rotate(-90)">)</text>
</svg></body></html>
